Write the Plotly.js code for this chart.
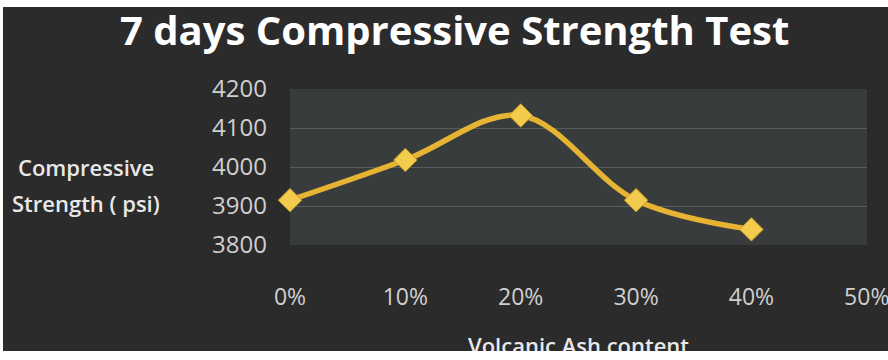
<!DOCTYPE html>
<html>
<head>
<meta charset="utf-8">
<script src="https://cdn.plot.ly/plotly-3.0.1.min.js"></script>
<style>
  html, body { margin: 0; padding: 0; background: #ffffff; }
  #wrap { position: relative; width: 888px; height: 360px; overflow: hidden; }
  #chart { position: absolute; left: 0; top: 0; width: 888px; height: 360px; }
  .edge { position: absolute; background: #ffffff; }
</style>
</head>
<body>
<div id="wrap">
  <div id="chart"></div>
  <div class="edge" style="left:0;top:0;width:888px;height:7px;"></div>
  <div class="edge" style="left:0;top:0;width:3px;height:360px;"></div>
  <div class="edge" style="left:0;top:351px;width:888px;height:9px;"></div>
</div>
<script>
// Data
const ashContent = [0, 10, 20, 30, 40];          // % volcanic ash
const strength7d = [3915, 4018, 4132, 3915, 3840]; // psi
const xTickVals = [0, 10, 20, 30, 40, 50];
const xTickText = ['0%', '10%', '20%', '30%', '40%', '50%'];
const yTickVals = [3800, 3900, 4000, 4100, 4200];

const trace = {
  x: ashContent,
  y: strength7d,
  type: 'scatter',
  mode: 'lines+markers',
  line: { color: '#e6b432', width: 5.5, shape: 'spline', smoothing: 1 },
  marker: { symbol: 'diamond', size: 18, color: '#f3cc4e', line: { color: '#c99a22', width: 1 } },
  cliponaxis: false,
  hoverinfo: 'skip'
};

const font = 'Open Sans, Noto Sans, DejaVu Sans, sans-serif';

const layout = {
  width: 888,
  height: 360,
  margin: { l: 290, r: 21, t: 89, b: 115 },
  paper_bgcolor: '#2b2b2b',
  plot_bgcolor: '#383c3d',
  showlegend: false,
  title: {
    text: '<b>7 days Compressive Strength Test</b>',
    font: { family: font, size: 40, color: '#ffffff' },
    x: 0.512, xref: 'container', xanchor: 'center',
    y: 0.915, yref: 'container', yanchor: 'middle'
  },
  xaxis: {
    range: [0, 50.02],
    tickvals: xTickVals,
    ticktext: xTickText,
    ticklabeloverflow: 'allow',
    showgrid: false,
    zeroline: false,
    showline: false,
    ticks: '',
    ticklabelstandoff: 36,
    tickfont: { family: font, size: 23, color: '#cfcfcf' },
    title: {
      text: 'Volcanic Ash content',
      font: { family: font, size: 22, color: '#e8e8e8', weight: 600 },
      standoff: 32
    }
  },
  yaxis: {
    range: [3800, 4200],
    tickvals: yTickVals,
    showgrid: true,
    gridcolor: '#575c5c',
    gridwidth: 1,
    zeroline: false,
    showline: false,
    ticks: '',
    ticklabelstandoff: 22,
    tickfont: { family: font, size: 24, color: '#cfcfcf' }
  },
  annotations: [
    { text: 'Compressive', xref: 'paper', yref: 'paper', x: -0.353, y: 0.5,
      xanchor: 'center', yanchor: 'middle', showarrow: false,
      font: { family: font, size: 22, color: '#e8e8e8', weight: 600 } },
    { text: 'Strength ( psi)', xref: 'paper', yref: 'paper', x: -0.353, y: 0.27,
      xanchor: 'center', yanchor: 'middle', showarrow: false,
      font: { family: font, size: 22, color: '#e8e8e8', weight: 600 } }
  ]
};

Plotly.newPlot('chart', [trace], layout, { displayModeBar: false, staticPlot: true });
</script>
</body>
</html>
